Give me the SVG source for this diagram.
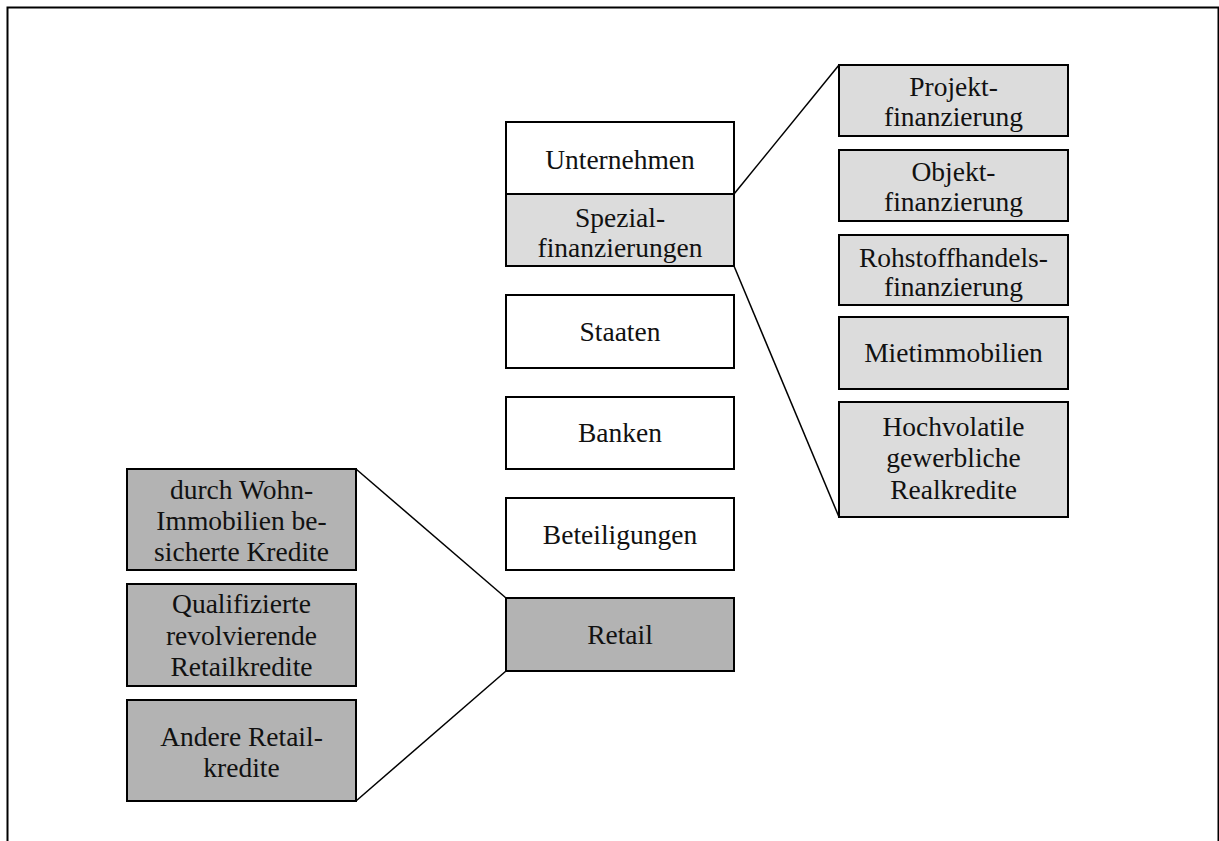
<svg xmlns="http://www.w3.org/2000/svg" width="1219" height="841" viewBox="0 0 1219 841">
<style>
.b{stroke:#000;stroke-width:2}
.w{fill:#fff}
.l{fill:#dcdcdc}
.d{fill:#b3b3b3}
text{font-family:"Liberation Serif","Times New Roman",serif;font-size:27.5px;fill:#111;text-anchor:middle}
.c{stroke:#000;stroke-width:1.5;fill:none}
</style>
<rect width="1219" height="841" fill="#fff"/>
<path d="M7.5,850 V7.5 H1218.5 V850" fill="none" stroke="#000" stroke-width="2"/>
<g id="connectors">
<line class="c" x1="734" y1="194" x2="839" y2="65"/>
<line class="c" x1="734" y1="266" x2="839" y2="517"/>
<line class="c" x1="356" y1="469" x2="506" y2="598"/>
<line class="c" x1="356" y1="801" x2="506" y2="671"/>
</g>
<g id="unternehmen"><rect class="b w" x="506" y="122" width="228" height="72"/><text x="620" y="169">Unternehmen</text></g>
<g id="spezial"><rect class="b l" x="506" y="194" width="228" height="72"/><text x="620" y="227">Spezial-</text><text x="620" y="257">finanzierungen</text></g>
<g id="staaten"><rect class="b w" x="506" y="295" width="228" height="73"/><text x="620" y="341">Staaten</text></g>
<g id="banken"><rect class="b w" x="506" y="397" width="228" height="72"/><text x="620" y="442">Banken</text></g>
<g id="beteiligungen"><rect class="b w" x="506" y="498" width="228" height="72"/><text x="620" y="544">Beteiligungen</text></g>
<g id="retail"><rect class="b d" x="506" y="598" width="228" height="73"/><text x="620" y="644">Retail</text></g>
<g id="projekt"><rect class="b l" x="839" y="65" width="229" height="71"/><text x="953.5" y="96">Projekt-</text><text x="953.5" y="126">finanzierung</text></g>
<g id="objekt"><rect class="b l" x="839" y="150" width="229" height="71"/><text x="953.5" y="181">Objekt-</text><text x="953.5" y="211">finanzierung</text></g>
<g id="rohstoff"><rect class="b l" x="839" y="235" width="229" height="70"/><text x="953.5" y="267">Rohstoffhandels-</text><text x="953.5" y="296">finanzierung</text></g>
<g id="miet"><rect class="b l" x="839" y="317" width="229" height="72"/><text x="953.5" y="362">Mietimmobilien</text></g>
<g id="hochvolatile"><rect class="b l" x="839" y="402" width="229" height="115"/><text x="953.5" y="436">Hochvolatile</text><text x="953.5" y="467">gewerbliche</text><text x="953.5" y="499">Realkredite</text></g>
<g id="wohn"><rect class="b d" x="127" y="469" width="229" height="101"/><text x="241.5" y="499">durch Wohn-</text><text x="241.5" y="530">Immobilien be-</text><text x="241.5" y="561">sicherte Kredite</text></g>
<g id="qualifizierte"><rect class="b d" x="127" y="584" width="229" height="102"/><text x="241.5" y="613">Qualifizierte</text><text x="241.5" y="645">revolvierende</text><text x="241.5" y="676">Retailkredite</text></g>
<g id="andere"><rect class="b d" x="127" y="700" width="229" height="101"/><text x="241.5" y="746">Andere Retail-</text><text x="241.5" y="777">kredite</text></g>
</svg>
